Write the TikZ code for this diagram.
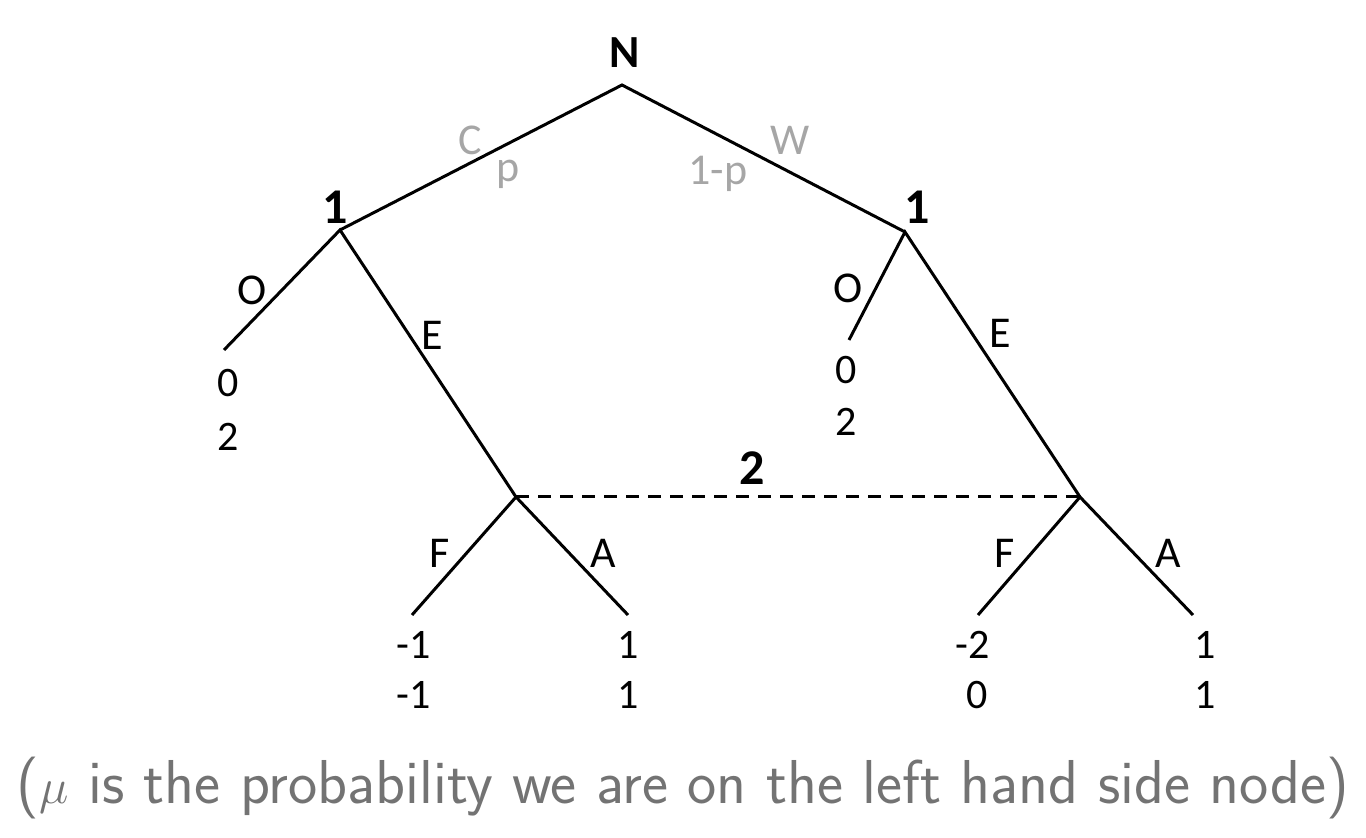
\documentclass[tikz,border=0pt]{standalone}
\usepackage{fontspec}
\setmainfont{Carlito}
\usepackage{amsmath}
\usepackage{tikz}

\begin{document}
\begin{tikzpicture}[x=0.5pt,y=-0.5pt,line width=1.5pt]
  \useasboundingbox (0,0) rectangle (1366,838);
  \tikzset{
    lbl/.style={inner sep=0pt,font=\fontsize{22}{24}\selectfont},
    pay/.style={inner sep=0pt,font=\fontsize{21}{24}\selectfont},
    plr/.style={inner sep=0pt,font=\fontsize{25}{28}\selectfont\bfseries},
    prob/.style={inner sep=0pt,color=black!35,font=\fontsize{22}{24}\selectfont}
  }

  % decision points
  \coordinate (nat) at (622,85);
  \coordinate (l1) at (340,230);
  \coordinate (r1) at (905,232);
  \coordinate (lo) at (224,350);
  \coordinate (ro) at (849,340);
  \coordinate (l2) at (516,497);
  \coordinate (r2) at (1080,497);
  \coordinate (lf) at (412,615);
  \coordinate (la) at (628,615);
  \coordinate (rf) at (978,615);
  \coordinate (ra) at (1193,615);

  \draw (l1) -- (nat) -- (r1);
  \draw (lo) -- (l1) -- (l2);
  \draw (ro) -- (r1) -- (r2);
  \draw (lf) -- (l2) -- (la);
  \draw (rf) -- (r2) -- (ra);
  \draw[dash pattern=on 6.5pt off 4.5pt] (l2) -- (r2);

  \node[plr,font=\fontsize{23}{26}\selectfont\bfseries] (natlbl) at (625,53) {N};
  \node[plr] (l1lbl) at (335,207) {1};
  \node[plr] (r1lbl) at (917,207) {1};
  \node[plr] (infolbl) at (752,468) {2};

  \node[prob] (cl) at (470,140) {C};
  \node[prob] (cp) at (508,174) {p};
  \node[prob] (wl) at (790,140) {W};
  \node[prob] (wp) at (718,174) {1-p};

  \node[lbl] (lol) at (252,290) {O};
  \node[lbl] (lel) at (432,335) {E};
  \node[lbl] (rol) at (848,288) {O};
  \node[lbl] (rel) at (1000,333) {E};
  \node[lbl] (lfl) at (440,553) {F};
  \node[lbl] (lal) at (603,553) {A};
  \node[lbl] (rfl) at (1005,553) {F};
  \node[lbl] (ral) at (1168,553) {A};

  % payoffs
  \node[pay] (lo1) at (228,383) {0};
  \node[pay] (lo2) at (228,437) {2};
  \node[pay] (ro1) at (846,370) {0};
  \node[pay] (ro2) at (846,422) {2};
  \node[pay] (lf1) at (414,645) {-1};
  \node[pay] (lf2) at (414,695) {-1};
  \node[pay] (la1) at (628,645) {1};
  \node[pay] (la2) at (628,695) {1};
  \node[pay] (rf1) at (973,645) {-2};
  \node[pay] (rf2) at (977,695) {0};
  \node[pay] (ra1) at (1205,645) {1};
  \node[pay] (ra2) at (1205,695) {1};

  \node[inner sep=0pt,color=black!55,font=\sffamily\fontsize{31}{34}\selectfont] (cap) at (683,788)
    {($\mu$ is the probability we are on the left hand side node)};
\end{tikzpicture}
\end{document}
